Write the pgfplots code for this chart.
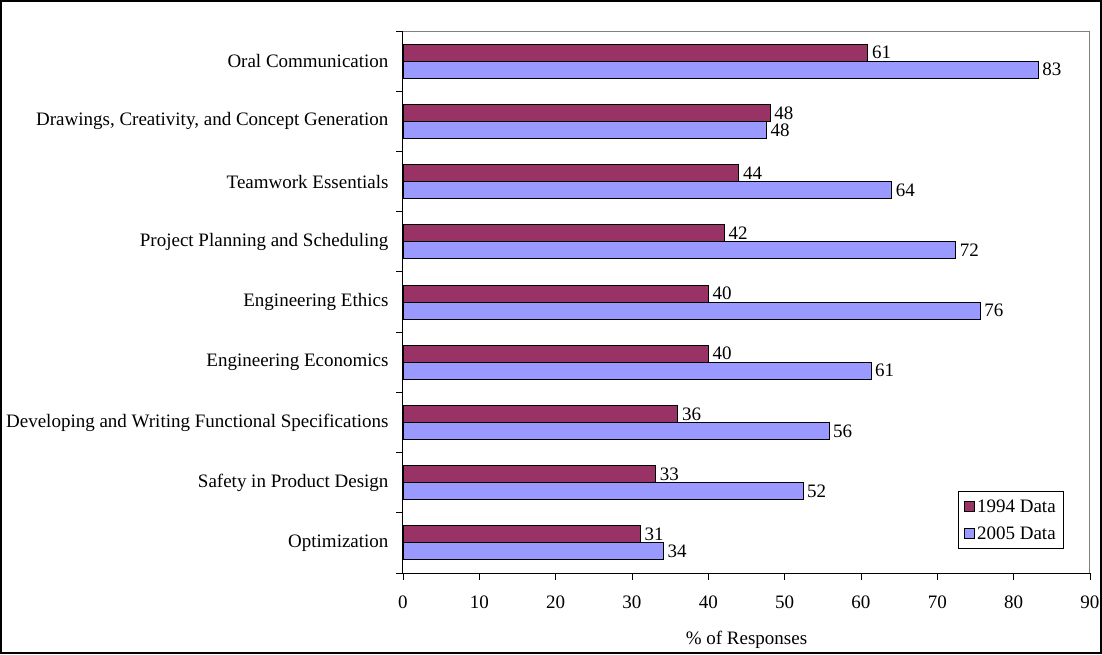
\documentclass[border=0pt]{standalone}
\usepackage{pgfplots}
\pgfplotsset{compat=1.18}
\usepackage{fontspec}
\setmainfont{Liberation Serif}
\definecolor{c94}{HTML}{993366}
\definecolor{c05}{HTML}{9999FF}
\begin{document}
\begin{tikzpicture}
\useasboundingbox (-403pt,-81pt) rectangle (699pt,573pt);
\draw[line width=2pt] (-402pt,-80pt) rectangle (698pt,572pt);
\begin{axis}[
  at={(0pt,0pt)}, anchor=south west,
  scale only axis,
  width=687pt, height=542pt,
  xmin=0, xmax=90,
  ymin=-0.5, ymax=8.5,
  xtick={0,10,...,90},
  ytick={0,...,8},
  yticklabels={Optimization,Safety in Product Design,Developing and Writing Functional Specifications,Engineering Economics,Engineering Ethics,Project Planning and Scheduling,Teamwork Essentials,{Drawings, Creativity, and Concept Generation},Oral Communication},
  minor ytick={-0.5,0.5,...,8.5},
  major y tick style={draw=none},
  minor tick length=7pt,
  major tick length=7pt,
  tick align=outside,
  xtick pos=bottom, ytick pos=left,
  tick style={black, line width=0.8pt},
  axis line style={draw=none},
  font=\fontsize{19}{21}\selectfont,
  tick label style={font=\fontsize{19}{21}\selectfont},
  /pgf/number format/assume math mode=true,
  xticklabel style={yshift=-12pt},
  yticklabel style={xshift=-4pt},
  xlabel={\% of Responses},
  xlabel style={yshift=-16pt},
  xbar, bar width=17pt,
  nodes near coords,
  point meta=explicit symbolic,
  every node near coord/.append style={font=\fontsize{19}{21}\selectfont, anchor=west, xshift=0.5pt},
  legend style={at={(1,0)}, anchor=south east, xshift=-26pt, yshift=24pt, draw=black, line width=0.6pt, font=\fontsize{19}{21}\selectfont, row sep=9pt, inner xsep=6pt, inner ysep=6pt, cells={anchor=west}},
  legend image code/.code={\draw[#1, draw=black, line width=0.8pt] (0pt,-5pt) rectangle (10pt,5pt);},
  clip=false,
]
\addplot[fill=c94, draw=black, line width=0.8pt, bar shift=8.5pt] coordinates {
(31.1,0) [31]
(33.1,1) [33]
(36.0,2) [36]
(40.0,3) [40]
(40.0,4) [40]
(42.1,5) [42]
(44.0,6) [44]
(48.1,7) [48]
(60.9,8) [61]
};
\addlegendentry{1994 Data}
\addplot[fill=c05, draw=black, line width=0.8pt, bar shift=-8.5pt] coordinates {
(34.1,0) [34]
(52.4,1) [52]
(55.8,2) [56]
(61.3,3) [61]
(75.6,4) [76]
(72.4,5) [72]
(64.0,6) [64]
(47.6,7) [48]
(83.2,8) [83]
};
\addlegendentry{2005 Data}
\draw[gray, line width=1pt] (axis cs:0,8.5) -- (axis cs:90,8.5) -- (axis cs:90,-0.5);
\draw[black, line width=1pt] (axis cs:0,8.5) -- (axis cs:0,-0.5) -- (axis cs:90,-0.5);
\end{axis}
\end{tikzpicture}
\end{document}
